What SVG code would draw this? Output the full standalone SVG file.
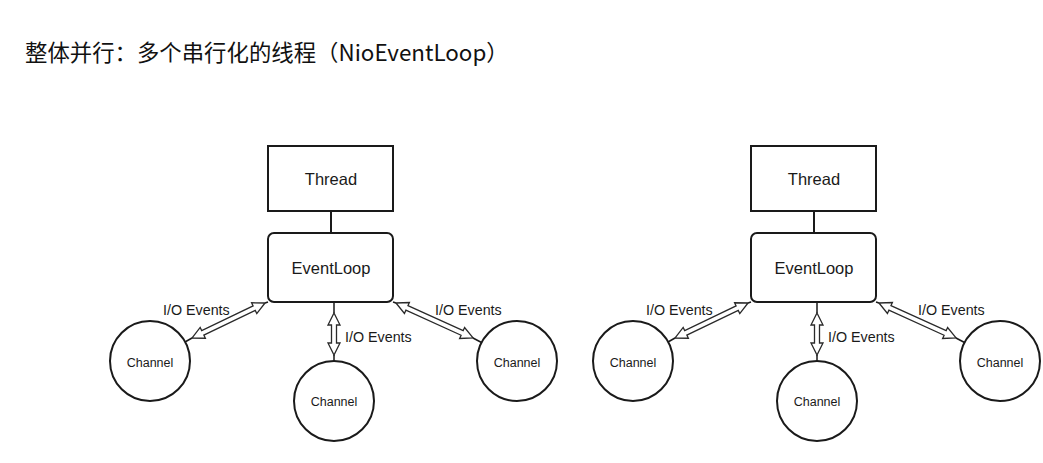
<svg xmlns="http://www.w3.org/2000/svg" width="1043" height="463" viewBox="0 0 1043 463">
<style>
.box{fill:#fff;stroke:#1a1a1a;stroke-width:2}
.ch{fill:#fff;stroke:#1a1a1a;stroke-width:2}
.ln{stroke:#1a1a1a;stroke-width:2;fill:none}
.thin{stroke:#1a1a1a;stroke-width:1.5;fill:none}
.arr{fill:#fff;stroke:#2a2a2a;stroke-width:1.3;stroke-linejoin:miter}
.t{font-family:"Liberation Sans",Arial,sans-serif;fill:#1a1a1a;text-anchor:middle}
.lbl{font-family:"Liberation Sans",Arial,sans-serif;fill:#1a1a1a;font-size:14.3px}
.title{font-family:"Noto Sans CJK SC","Noto Sans",sans-serif;font-size:22.4px;fill:#111}
</style>
<defs>
<polygon id="dbl80" points="0,0 12,-6 12,-2.5 69,-2.5 69,-6 81,0 69,6 69,2.5 12,2.5 12,6"/>
<polygon id="dbl85" points="0,0 12,-6 12,-2.5 72.6,-2.5 72.6,-6 84.6,0 72.6,6 72.6,2.5 12,2.5 12,6"/>
<polygon id="dbl42" points="0,0 12,-6 12,-2.5 30,-2.5 30,-6 42,0 30,6 30,2.5 12,2.5 12,6"/>
</defs>
<rect width="1043" height="463" fill="#fff"/>
<text class="title" x="25" y="61">整体并行：多个串行化的线程（NioEventLoop）</text>

<g id="diagram-left">
  <g id="connectors-left">
    <line class="ln" x1="331" y1="211" x2="331" y2="233"/>
    <line class="thin" x1="268" y1="302" x2="265" y2="303"/>
    <use href="#dbl80" class="arr" transform="translate(265,303) rotate(154.4)"/>
    <line class="thin" x1="192" y1="338" x2="185" y2="342"/>
    <line class="thin" x1="334" y1="302" x2="334" y2="313"/>
    <use href="#dbl42" class="arr" transform="translate(334,313) rotate(90)"/>
    <line class="thin" x1="334" y1="355" x2="334" y2="361"/>
    <line class="thin" x1="393" y1="302" x2="396" y2="303"/>
    <use href="#dbl85" class="arr" transform="translate(396,303) rotate(24.4)"/>
    <line class="thin" x1="473" y1="338" x2="481.5" y2="342.5"/>
    <text class="lbl" x="163" y="315">I/O Events</text>
    <text class="lbl" x="345" y="342">I/O Events</text>
    <text class="lbl" x="435" y="315">I/O Events</text>
  </g>
  <g id="thread-left"><rect class="box" x="268" y="146" width="125" height="65"/><text class="t" x="331" y="185" font-size="16.5">Thread</text></g>
  <g id="eventloop-left"><rect class="box" x="268" y="233" width="125" height="69" rx="6"/><text class="t" x="331" y="274" font-size="16.5">EventLoop</text></g>
  <g id="channel-left-1"><circle class="ch" cx="150" cy="361" r="40"/><text class="t" x="150" y="366.5" font-size="12.5">Channel</text></g>
  <g id="channel-left-2"><circle class="ch" cx="334" cy="401" r="40"/><text class="t" x="334" y="405.5" font-size="12.5">Channel</text></g>
  <g id="channel-left-3"><circle class="ch" cx="517" cy="361" r="40"/><text class="t" x="517" y="366.5" font-size="12.5">Channel</text></g>
</g>

<g id="diagram-right" transform="translate(483,0)">
  <g id="connectors-right">
    <line class="ln" x1="331" y1="211" x2="331" y2="233"/>
    <line class="thin" x1="268" y1="302" x2="265" y2="303"/>
    <use href="#dbl80" class="arr" transform="translate(265,303) rotate(154.4)"/>
    <line class="thin" x1="192" y1="338" x2="185" y2="342"/>
    <line class="thin" x1="334" y1="302" x2="334" y2="313"/>
    <use href="#dbl42" class="arr" transform="translate(334,313) rotate(90)"/>
    <line class="thin" x1="334" y1="355" x2="334" y2="361"/>
    <line class="thin" x1="393" y1="302" x2="396" y2="303"/>
    <use href="#dbl85" class="arr" transform="translate(396,303) rotate(24.4)"/>
    <line class="thin" x1="473" y1="338" x2="481.5" y2="342.5"/>
    <text class="lbl" x="163" y="315">I/O Events</text>
    <text class="lbl" x="345" y="342">I/O Events</text>
    <text class="lbl" x="435" y="315">I/O Events</text>
  </g>
  <g id="thread-right"><rect class="box" x="268" y="146" width="125" height="65"/><text class="t" x="331" y="185" font-size="16.5">Thread</text></g>
  <g id="eventloop-right"><rect class="box" x="268" y="233" width="125" height="69" rx="6"/><text class="t" x="331" y="274" font-size="16.5">EventLoop</text></g>
  <g id="channel-right-1"><circle class="ch" cx="150" cy="361" r="40"/><text class="t" x="150" y="366.5" font-size="12.5">Channel</text></g>
  <g id="channel-right-2"><circle class="ch" cx="334" cy="401" r="40"/><text class="t" x="334" y="405.5" font-size="12.5">Channel</text></g>
  <g id="channel-right-3"><circle class="ch" cx="517" cy="361" r="40"/><text class="t" x="517" y="366.5" font-size="12.5">Channel</text></g>
</g>
</svg>
